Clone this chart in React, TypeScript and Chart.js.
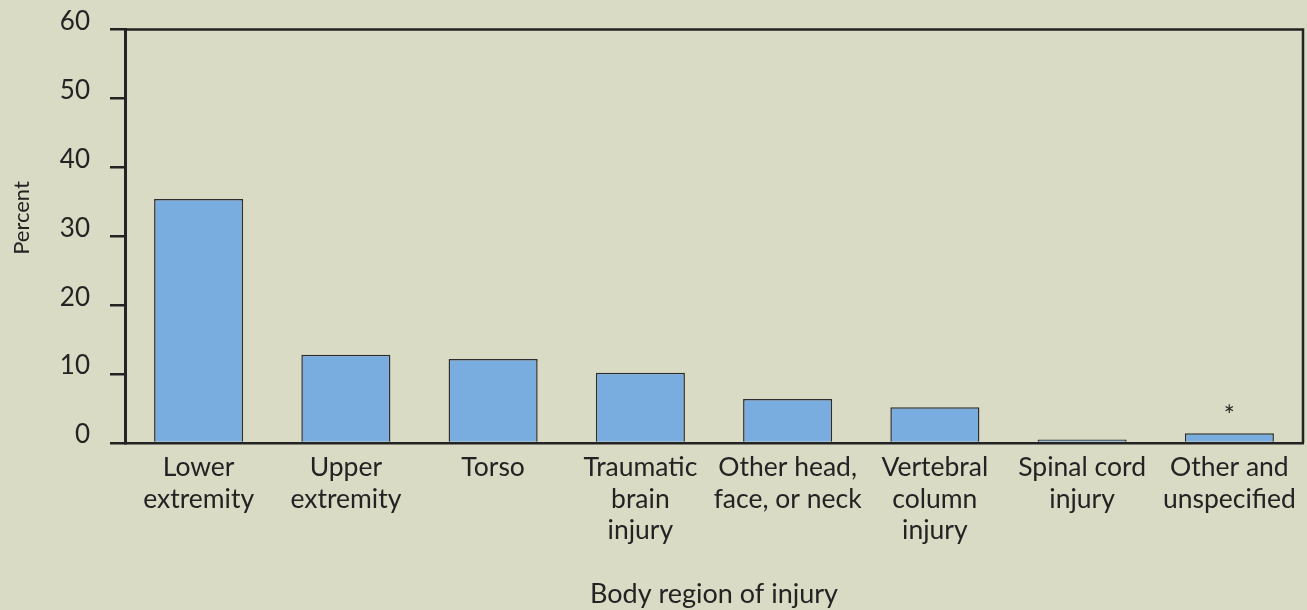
import React, { useEffect, useRef } from "react";
import { Chart, registerables } from "chart.js";

Chart.register(...registerables);

const categories: string[][] = [
  ["Lower", "extremity"],
  ["Upper", "extremity"],
  ["Torso"],
  ["Traumatic", "brain", "injury"],
  ["Other head,", "face, or neck"],
  ["Vertebral", "column", "injury"],
  ["Spinal cord", "injury"],
  ["Other and", "unspecified"],
];
const percentValues: number[] = [35.4, 12.8, 12.2, 10.2, 6.4, 5.2, 0.5, 1.4];
const barNotes: string[] = ["", "", "", "", "", "", "", "*"];
const yTicks: number[] = [0, 10, 20, 30, 40, 50, 60];
const xTitle = "Body region of injury";
const yTitle = "Percent";

const FONT = "Lato, 'Noto Sans', sans-serif";
const INK = "#232323";
const BG = "#dadbc5";

export default function App() {
  const ref = useRef<HTMLCanvasElement | null>(null);

  useEffect(() => {
    if (!ref.current) return;
    const framePlugin = {
      id: "frame",
      afterDraw(chart: any) {
        const { ctx, chartArea } = chart;
        ctx.save();
        ctx.strokeStyle = INK;
        ctx.lineWidth = 2.5;
        ctx.beginPath();
        ctx.moveTo(chartArea.left, chartArea.top);
        ctx.lineTo(chartArea.right, chartArea.top);
        ctx.lineTo(chartArea.right, chartArea.bottom);
        ctx.stroke();
        // notes above bars
        const meta = chart.getDatasetMeta(0);
        ctx.fillStyle = INK;
        ctx.font = `26px ${FONT}`;
        ctx.textAlign = "center";
        ctx.textBaseline = "middle";
        meta.data.forEach((bar: any, i: number) => {
          if (barNotes[i]) ctx.fillText(barNotes[i], bar.x, bar.y - 17);
        });
        // y title
        ctx.font = `22px ${FONT}`;
        ctx.translate(22, 218);
        ctx.rotate(-Math.PI / 2);
        ctx.fillText(yTitle, 0, 0);
        ctx.restore();
      },
    };

    const chart = new Chart(ref.current, {
      type: "bar",
      data: {
        labels: categories,
        datasets: [
          {
            data: percentValues,
            backgroundColor: "#7aaddf",
            borderColor: "#2e2e2e",
            borderWidth: 1.5,
            categoryPercentage: 1,
            barPercentage: 0.605,
          },
        ],
      },
      options: {
        responsive: false,
        animation: false,
        devicePixelRatio: 1,
        layout: { padding: { top: 29.5, right: 4, left: 0, bottom: 0 } },
        plugins: { legend: { display: false }, tooltip: { enabled: false } },
        scales: {
          x: {
            grid: { display: false, drawTicks: false },
            border: { display: true, color: INK, width: 2.5 },
            ticks: {
              color: INK,
              font: { family: FONT, size: 26.5, lineHeight: 1.19 },
              padding: 9,
              maxRotation: 0,
              autoSkip: false,
            },
            title: {
              display: true,
              text: xTitle,
              color: INK,
              font: { family: FONT, size: 27 },
              padding: { top: 0, bottom: 0 },
            },
            afterFit(scale: any) {
              scale.height = 610 - 443;
            },
          },
          y: {
            min: 0,
            max: 60,
            afterBuildTicks(scale: any) {
              scale.ticks = yTicks.map((v) => ({ value: v }));
            },
            grid: {
              display: true,
              drawOnChartArea: false,
              drawTicks: true,
              tickLength: 15,
              color: INK,
              lineWidth: 2.5,
            },
            border: { display: true, color: INK, width: 3 },
            ticks: {
              color: INK,
              font: { family: FONT, size: 26 },
              padding: 20,
              labelOffset: -8,
            },
            afterFit(scale: any) {
              scale.width = 125;
              scale.paddingTop = 0;
              scale.paddingBottom = 0;
            },
          },
        },
      },
      plugins: [framePlugin],
    });
    return () => chart.destroy();
  }, []);

  return (
    <div
      style={{
        position: "fixed",
        left: 0,
        top: 0,
        width: 1307,
        height: 610,
        background: BG,
      }}
    >
      <canvas ref={ref} width={1307} height={610} style={{ display: "block" }} />
    </div>
  );
}
